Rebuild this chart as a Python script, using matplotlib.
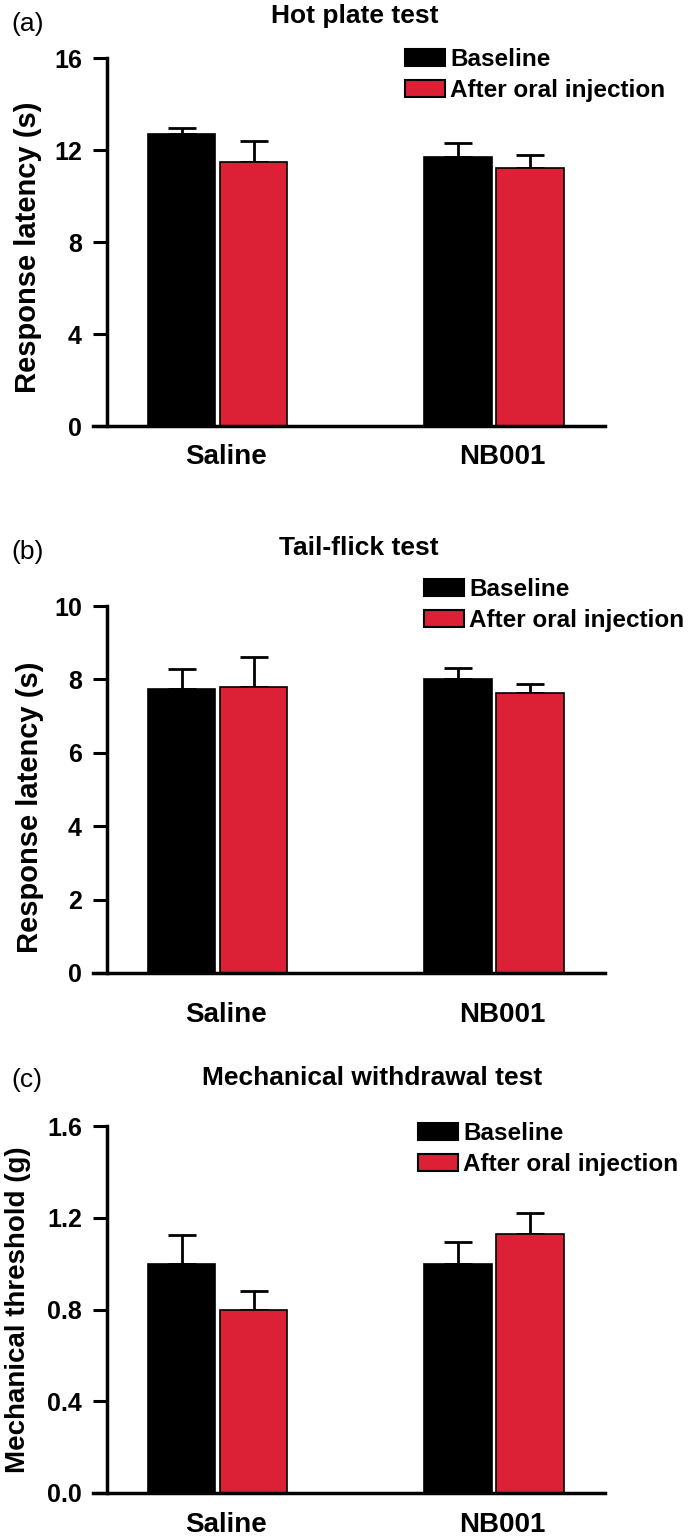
import numpy as np
import matplotlib
matplotlib.use("Agg")
import matplotlib.pyplot as plt
from matplotlib.patches import Patch

plt.rcParams['font.family'] = ['Liberation Sans', 'DejaVu Sans']

groups = ["Saline", "NB001"]
series = ["Baseline", "After oral injection"]

hot_base = [12.7, 11.7]
hot_base_err = [0.25, 0.6]
hot_after = [11.5, 11.2]
hot_after_err = [0.9, 0.6]

tail_base = [7.75, 8.0]
tail_base_err = [0.52, 0.3]
tail_after = [7.8, 7.62]
tail_after_err = [0.8, 0.26]

mech_base = [1.0, 1.0]
mech_base_err = [0.125, 0.095]
mech_after = [0.8, 1.13]
mech_after_err = [0.08, 0.09]

panels = [
    ("(a)", "Hot plate test", "Response latency (s)", hot_base, hot_base_err,
     hot_after, hot_after_err, 16, [0, 4, 8, 12, 16], ["0", "4", "8", "12", "16"]),
    ("(b)", "Tail-flick test", "Response latency (s)", tail_base, tail_base_err,
     tail_after, tail_after_err, 10, [0, 2, 4, 6, 8, 10], ["0", "2", "4", "6", "8", "10"]),
    ("(c)", "Mechanical withdrawal test", "Mechanical threshold (g)", mech_base, mech_base_err,
     mech_after, mech_after_err, 1.6, [0, 0.4, 0.8, 1.2, 1.6], ["0.0", "0.4", "0.8", "1.2", "1.6"]),
]

RED = "#dc2035"
W, H = 688, 1538
fig = plt.figure(figsize=(W / 100, H / 100), dpi=100)

# axes boxes in pixels: (top, bottom)
boxes = [(58, 426), (606, 973), (1126, 1493)]
left_px, right_px = 93, 605
x_left = -0.45  # data coord of left edge (tick tip)
x_right = 1.40
spine_x = -0.40

title_pos = [(355, 16), (359, 548), (372, 1078)]
tag_y = [24, 552, 1080]
leg_pos = [(405, 65), (424, 595), (418, 1139)]
xlab_pad = [13, 21, 14]
ylab_size = [21, 21, 20]
ylab_coords = [(-0.10, 0.486), (-0.096, 0.452), (-0.121, 0.5)]

x = np.arange(len(groups))
bw = 0.245
off = 0.13

for i, (tag, title, ylabel, b, be, a, ae, ymax, ticks, ticklabels) in enumerate(panels):
    top, bot = boxes[i]
    ax = fig.add_axes([left_px / W, 1 - bot / H, (right_px - left_px) / W, (bot - top) / H])
    ax.bar(x - off, b, bw, color="black", edgecolor="black", linewidth=1.2, zorder=2)
    ax.bar(x + off, a, bw, color=RED, edgecolor="black", linewidth=1.2, zorder=2)
    ax.errorbar(x - off, b, yerr=[np.zeros(2), be], fmt="none", ecolor="black",
                elinewidth=2, capsize=10, capthick=2, zorder=1)
    ax.errorbar(x + off, a, yerr=[np.zeros(2), ae], fmt="none", ecolor="black",
                elinewidth=2, capsize=10, capthick=2, zorder=1)
    ax.set_xlim(x_left, x_right)
    ax.set_ylim(0, ymax)
    ax.spines["top"].set_visible(False)
    ax.spines["right"].set_visible(False)
    ax.spines["left"].set_position(("data", spine_x))
    ax.spines["left"].set_linewidth(2.5)
    ax.spines["bottom"].set_linewidth(2.5)
    ax.set_yticks(ticks)
    ax.set_yticklabels(ticklabels, fontsize=18, fontweight="bold")
    ax.tick_params(axis="y", direction="out", length=10, width=2.2, pad=8)
    ax.set_xticks(x + 0.03)
    ax.set_xticklabels(groups, fontsize=20, fontweight="bold")
    ax.tick_params(axis="x", length=0, pad=xlab_pad[i])
    ax.set_ylabel(ylabel, fontsize=ylab_size[i], fontweight="bold")
    ax.yaxis.set_label_coords(*ylab_coords[i])

    tx, ty = title_pos[i]
    fig.text(tx / W, 1 - ty / H, title, fontsize=19, fontweight="bold",
             ha="center", va="center")
    fig.text(11 / W, 1 - tag_y[i] / H, tag, fontsize=19, ha="left", va="center")

    handles = [Patch(facecolor="black", edgecolor="black", linewidth=1.5),
               Patch(facecolor=RED, edgecolor="black", linewidth=1.5)]
    lx, ly = leg_pos[i]
    fig.legend(handles, series, loc="upper left",
               bbox_to_anchor=(lx / W, 1 - (ly - 17) / H),
               frameon=False, prop={"size": 17.5, "weight": "bold"},
               handlelength=1.65, handleheight=0.66, handletextpad=0.2,
               labelspacing=0.33, borderaxespad=0, borderpad=0)

fig.savefig("out.png", dpi=100)
